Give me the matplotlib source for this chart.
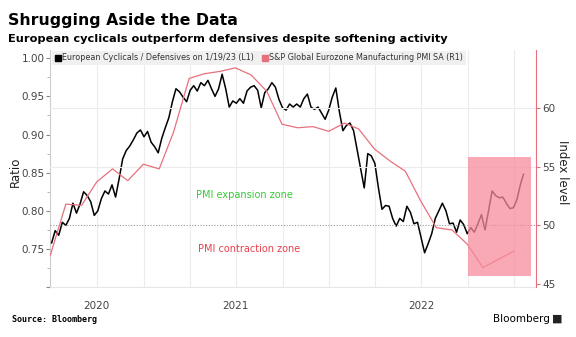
import numpy as np
import pandas as pd
import matplotlib
matplotlib.use("Agg")
import matplotlib.pyplot as plt
import matplotlib.dates as mdates
from matplotlib.lines import Line2D
from matplotlib.patches import Rectangle

# European Cyclicals / Defensives ratio, weekly readings (last point 1/19/23)
ratio_values = [
    0.758, 0.774, 0.768, 0.785, 0.781, 0.790, 0.810, 0.797, 0.809, 0.825,
    0.820, 0.812, 0.794, 0.800, 0.816, 0.826, 0.822, 0.834, 0.818, 0.842,
    0.868, 0.879, 0.885, 0.893, 0.902, 0.906, 0.897, 0.904, 0.890, 0.884,
    0.876, 0.895, 0.909, 0.922, 0.943, 0.960, 0.956, 0.949, 0.943, 0.958,
    0.964, 0.957, 0.968, 0.964, 0.971, 0.960, 0.950, 0.960, 0.979, 0.960,
    0.936, 0.944, 0.941, 0.947, 0.941, 0.957, 0.962, 0.964, 0.958, 0.935,
    0.955, 0.960, 0.968, 0.962, 0.946, 0.935, 0.932, 0.940, 0.936, 0.940,
    0.936, 0.947, 0.953, 0.936, 0.933, 0.936, 0.928, 0.920, 0.932, 0.949,
    0.961, 0.930, 0.905, 0.912, 0.915, 0.905, 0.880, 0.855, 0.830, 0.875,
    0.872, 0.862, 0.830, 0.802, 0.807, 0.806, 0.790, 0.780, 0.790, 0.786,
    0.806, 0.798, 0.783, 0.785, 0.765, 0.745, 0.757, 0.770, 0.790, 0.800,
    0.810, 0.800, 0.783, 0.784, 0.772, 0.788, 0.782, 0.770, 0.778, 0.772,
    0.783, 0.795, 0.775, 0.800, 0.826, 0.820, 0.817, 0.818, 0.810, 0.803,
    0.804, 0.815, 0.835, 0.848,
]
ratio_dates = list(pd.date_range("2020-07-03", periods=len(ratio_values) - 1, freq="7D")) + [pd.Timestamp("2023-01-19")]

# S&P Global Eurozone Manufacturing PMI, monthly Jun 2020 - Dec 2022
pmi_values = [
    47.4, 51.8, 51.7, 53.7, 54.8, 53.8, 55.2,
    54.8, 57.9, 62.5, 62.9, 63.1, 63.4, 62.8, 61.4, 58.6, 58.3, 58.4, 58.0,
    58.7, 58.2, 56.5, 55.5, 54.6, 52.1, 49.8, 49.6, 48.4, 46.4, 47.1, 47.8,
]
pmi_dates = pd.date_range("2020-06-30", periods=len(pmi_values), freq="ME")

year_labels = ["2020", "2021", "2022"]
year_label_dates = [pd.Timestamp("2020-09-30"), pd.Timestamp("2021-07-01"), pd.Timestamp("2022-07-01")]

red = "#e8707c"
grid_c = "#ececec"
txt_c = "#444444"

fig = plt.figure(figsize=(5.76, 3.37), dpi=100)
ax = fig.add_axes([0.087, 0.148, 0.844, 0.703])
ax2 = ax.twinx()

ax.plot(ratio_dates, ratio_values, color="black", lw=1.1, zorder=3)
ax2.plot(pmi_dates, pmi_values, color=red, lw=0.9, zorder=2)

ax.set_ylim(0.70, 1.0105)
ax2.set_ylim(44.74, 64.9)
ax.set_xlim(pd.Timestamp("2020-06-30"), pd.Timestamp("2023-02-13"))

# grid: quarters on x, right-axis ticks on y
for d in pd.date_range("2020-10-01", "2023-01-01", freq="QS"):
    ax.axvline(d, color=grid_c, lw=0.8, zorder=0)
for v in [55, 60]:
    ax2.axhline(v, color=grid_c, lw=0.8, zorder=0)
ax2.axhline(50, color="#999999", lw=0.8, ls=(0, (1, 1.5)), zorder=1)

# highlight box
d0 = mdates.date2num(pd.Timestamp("2022-10-01"))
d1 = mdates.date2num(pd.Timestamp("2023-02-03"))
ax2.add_patch(Rectangle((d0, 45.7), d1 - d0, 55.85 - 45.7, facecolor="#f78c9c",
                        alpha=0.75, edgecolor="none", zorder=5))

ax2.text(pd.Timestamp("2021-07-17"), 52.6, "PMI expansion zone", color="#33cc33",
         fontsize=7, ha="center", va="center")
ax2.text(pd.Timestamp("2021-07-27"), 47.95, "PMI contraction zone", color="#e8404c",
         fontsize=7, ha="center", va="center")

# axes styling
ax.set_yticks([0.70, 0.75, 0.80, 0.85, 0.90, 0.95, 1.00])
ax.set_yticklabels(["", "0.75", "0.80", "0.85", "0.90", "0.95", "1.00"])
ax.set_yticks(np.arange(0.725, 1.0, 0.05), minor=True)
ax.tick_params(axis="y", labelsize=7.5, colors=txt_c, length=3, width=0.8,
               color="#888888", pad=1)
ax.tick_params(axis="y", which="minor", length=2, color="#aaaaaa")
ax2.set_yticks([45, 50, 55, 60])
ax2.tick_params(axis="y", labelsize=7.5, colors=txt_c, length=3, width=0.8,
                color=red, pad=1.5)

ax.set_xticks(year_label_dates)
ax.set_xticklabels(year_labels)
ax.tick_params(axis="x", length=0, labelsize=7.5, colors=txt_c, pad=10)

ax.spines["top"].set_visible(False)
ax2.spines["top"].set_visible(False)
ax.spines["right"].set_visible(False)
ax.spines["left"].set_color("#cccccc")
ax.spines["bottom"].set_color("#e6e6e6")
ax2.spines["left"].set_visible(False)
ax2.spines["bottom"].set_visible(False)
ax2.spines["right"].set_color(red)

# axis titles placed directly
fig.text(0.027, 0.49, "Ratio", fontsize=8.5, color="#222222", rotation=90,
         ha="center", va="center")
fig.text(0.977, 0.49, "Index level", fontsize=8.5, color="#222222", rotation=270,
         ha="center", va="center")

handles = [
    Line2D([], [], marker="s", color="black", ls="none", markersize=4),
    Line2D([], [], marker="s", color=red, ls="none", markersize=4),
]
leg = ax2.legend(handles, ["European Cyclicals / Defensives on 1/19/23 (L1)",
                           "S&P Global Eurozone Manufacturing PMI SA (R1)"],
                 loc="upper left", ncol=2, fontsize=5.8, frameon=True, fancybox=False,
                 handletextpad=0.1, columnspacing=1.0, handlelength=0.8,
                 borderaxespad=0.1, borderpad=0.3, bbox_to_anchor=(0.003, 1.0))
leg.get_frame().set_facecolor("#f0f0f0")
leg.get_frame().set_edgecolor("none")
leg.get_frame().set_alpha(1)
leg.set_zorder(10)
for t in leg.get_texts():
    t.set_color("#333333")

fig.text(0.014, 0.925, "Shrugging Aside the Data", fontsize=11.3, fontweight="bold", color="black")
fig.text(0.014, 0.876, "European cyclicals outperform defensives despite softening activity",
         fontsize=8.2, fontweight="bold", color="black")
fig.text(0.02, 0.045, "Source: Bloomberg", fontsize=6, fontweight="bold",
         family="DejaVu Sans Mono", color="black")
fig.text(0.955, 0.045, "Bloomberg", fontsize=7.5, color="black", ha="right")
fig.text(0.958, 0.045, "\u25a0", fontsize=8, color="#222222", ha="left")

fig.savefig("out.png", dpi=100)
